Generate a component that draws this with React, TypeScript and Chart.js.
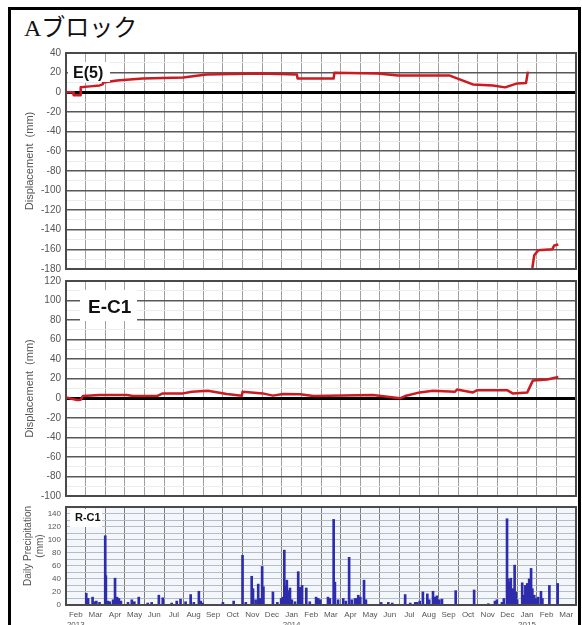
import { useEffect, useRef } from 'react';
import { Chart, registerables } from 'chart.js';

Chart.register(...registerables);

const FONT = "'Liberation Sans', Arial, Helvetica, sans-serif";

// Month axis: Feb 2013 .. Mar 2015, one slot per month
const MONTH_LABELS = ['Feb', 'Mar', 'Apr', 'May', 'Jun', 'Jul', 'Aug', 'Sep', 'Oct', 'Nov', 'Dec', 'Jan',
  'Feb', 'Mar', 'Apr', 'May', 'Jun', 'Jul', 'Aug', 'Sep', 'Oct', 'Nov', 'Dec', 'Jan', 'Feb', 'Mar'];
const YEAR_LABELS = ['2013', '2014', '2015'];
const YEAR_SLOTS = [0, 11, 23];

// Extensometer E(5) displacement (mm); null marks the break in the record
const E5_DATES = ['2013-02-01', '2013-02-11', '2013-02-12', '2013-02-21', '2013-02-22', '2013-03-08', '2013-03-23',
  '2013-03-28', '2013-03-29', '2013-04-19', '2013-05-29', '2013-07-31', '2013-09-06', '2013-11-28', '2014-01-25',
  '2014-01-26', '2014-03-21', '2014-03-22', '2014-05-28', '2014-06-29', '2014-09-18', '2014-10-24', '2014-11-24',
  '2014-12-13', '2015-01-01', '2015-01-15', '2015-01-18', '2015-01-22', '2015-01-25', '2015-01-28', '2015-02-03',
  '2015-02-23', '2015-02-26', '2015-03-04'];
const E5_MM = [0, 0, -3, -3, 5, 6, 7, 8, 10, 12, 14, 15, 18, 19, 18, 14, 14, 20, 19, 17, 17, 8, 7, 5, 9, 9.5, 21,
  null, -179, -166, -161, -160, -156, -155];

// Extensometer E-C1 displacement (mm)
const EC1_DATES = ['2013-02-01', '2013-02-17', '2013-02-22', '2013-02-25', '2013-03-23', '2013-05-04', '2013-05-14',
  '2013-06-20', '2013-06-29', '2013-07-31', '2013-08-14', '2013-09-08', '2013-10-07', '2013-10-31', '2013-11-01',
  '2013-12-02', '2013-12-18', '2014-01-03', '2014-01-30', '2014-02-18', '2014-05-21', '2014-07-02', '2014-07-10',
  '2014-08-02', '2014-08-23', '2014-09-26', '2014-09-29', '2014-10-24', '2014-10-31', '2014-12-16', '2014-12-25',
  '2015-01-17', '2015-01-26', '2015-02-16', '2015-03-04'];
const EC1_MM = [0.7, -1.7, -1.5, 2.3, 3.3, 3.3, 2.3, 2.3, 5, 5, 6.7, 7.7, 4.3, 2.7, 6.7, 5, 2.7, 4.3, 4, 2.3, 3.3,
  0, 2.3, 6, 7.7, 6.7, 9, 6, 8.3, 8.3, 5, 6, 18.3, 19.3, 21.7];

// Rain gauge R-C1 daily precipitation (mm)
const RAIN_DATES = ['2013-03-02', '2013-03-05', '2013-03-12', '2013-03-15', '2013-03-18', '2013-03-23', '2013-04-01',
  '2013-04-02', '2013-04-05', '2013-04-08', '2013-04-13', '2013-04-16', '2013-04-19', '2013-04-22', '2013-04-25',
  '2013-05-06', '2013-05-12', '2013-05-16', '2013-05-23', '2013-06-06', '2013-06-12', '2013-06-23', '2013-06-29',
  '2013-07-13', '2013-07-21', '2013-07-27', '2013-08-04', '2013-08-12', '2013-08-17', '2013-08-25', '2013-08-28',
  '2013-08-31', '2013-10-01', '2013-10-18', '2013-11-01', '2013-11-06', '2013-11-15', '2013-11-17', '2013-11-21',
  '2013-11-25', '2013-11-28', '2013-12-01', '2013-12-03', '2013-12-18', '2013-12-25', '2013-12-31', '2014-01-03',
  '2014-01-05', '2014-01-07', '2014-01-09', '2014-01-12', '2014-01-14', '2014-01-17', '2014-01-22', '2014-01-27',
  '2014-01-30', '2014-02-02', '2014-02-08', '2014-02-13', '2014-02-22', '2014-02-25', '2014-02-28', '2014-03-12',
  '2014-03-15', '2014-03-21', '2014-03-23', '2014-03-28', '2014-04-05', '2014-04-09', '2014-04-14', '2014-04-18',
  '2014-04-23', '2014-04-26', '2014-04-28', '2014-05-01', '2014-05-07', '2014-05-10', '2014-06-03', '2014-06-14',
  '2014-06-20', '2014-07-10', '2014-07-18', '2014-07-26', '2014-07-29', '2014-08-02', '2014-08-07', '2014-08-14',
  '2014-08-17', '2014-08-23', '2014-08-26', '2014-08-29', '2014-09-02', '2014-09-06', '2014-09-27', '2014-10-26',
  '2014-11-17', '2014-11-27', '2014-11-30', '2014-12-08', '2014-12-11', '2014-12-16', '2014-12-18', '2014-12-19',
  '2014-12-22', '2014-12-25', '2014-12-28', '2014-12-30', '2015-01-01', '2015-01-09', '2015-01-12', '2015-01-14',
  '2015-01-17', '2015-01-20', '2015-01-23', '2015-01-25', '2015-01-28', '2015-01-31', '2015-02-03', '2015-02-07',
  '2015-02-09', '2015-02-19', '2015-03-03'];
const RAIN_MM = [18, 10, 12, 5, 6, 4, 106, 45, 6, 5, 8, 41, 12, 10, 6, 4, 8, 5, 12, 3, 4, 15, 11, 3, 6, 9, 5, 16, 4, 21,
  6, 3, 4, 6, 76, 4, 44, 25, 8, 32, 10, 59, 28, 20, 4, 10, 12, 84, 30, 38, 22, 26, 8, 5, 51, 27, 30, 26, 5, 12, 10, 8,
  12, 10, 131, 35, 8, 10, 6, 73, 8, 10, 10, 15, 12, 38, 8, 4, 4, 3, 16, 3, 4, 4, 6, 20, 17, 8, 21, 12, 14, 8, 9, 22,
  23, 2, 6, 8, 4, 10, 132, 40, 35, 41, 25, 61, 20, 8, 34, 15, 30, 33, 40, 56, 25, 15, 10, 12, 21, 10, 30, 33];

// Axis ranges (min, max) of each panel
const E5_RANGE = [-180, 40];
const EC1_RANGE = [-100, 120];
const RAIN_RANGE = [0, 150];

// Position of a date on the month axis (0 = 1 Feb 2013)
function monthPos(s: string): number {
  const [y, m, d] = s.split('-').map(Number);
  const days = new Date(y, m, 0).getDate();
  return (y - 2013) * 12 + (m - 2) + (d - 1) / days;
}

function points(dates: string[], values: (number | null)[]) {
  return dates.map((d, i) => ({ x: monthPos(d), y: values[i] }));
}

function stepTicks(min: number, max: number, step: number) {
  const out: { value: number }[] = [];
  for (let v = min; v <= max + 1e-9; v += step) out.push({ value: Math.round(v * 100) / 100 });
  return out;
}

const panelDecor = {
  id: 'panelDecor',
  beforeDraw(chart: any, _a: any, o: any) {
    const { ctx, chartArea: a } = chart;
    ctx.save();
    ctx.fillStyle = o.background;
    ctx.fillRect(a.left, a.top, a.right - a.left, a.bottom - a.top);
    ctx.restore();
  },
  afterDraw(chart: any, _a: any, o: any) {
    const { ctx, chartArea: a } = chart;
    ctx.save();
    ctx.strokeStyle = o.frame;
    ctx.lineWidth = 2;
    ctx.strokeRect(a.left, a.top, a.right - a.left, a.bottom - a.top);
    const b = o.box;
    ctx.fillStyle = '#ffffff';
    ctx.fillRect(a.left + b[0], a.top + b[1], b[2], b[3]);
    ctx.fillStyle = '#111111';
    ctx.font = `bold ${o.size}px ${FONT}`;
    ctx.textBaseline = 'alphabetic';
    ctx.textAlign = 'left';
    ctx.fillText(o.label, a.left + o.textAt[0], a.top + o.textAt[1]);
    if (o.sideTitle) {
      ctx.font = `10px ${FONT}`;
      ctx.fillStyle = '#555555';
      ctx.textAlign = 'center';
      ctx.textBaseline = 'middle';
      const cy = (a.top + a.bottom) / 2 + o.sideTitle.dy;
      o.sideTitle.lines.forEach((line: string, i: number) => {
        ctx.save();
        ctx.translate(o.sideTitle.x + i * 12, cy);
        ctx.rotate(-Math.PI / 2);
        ctx.fillText(line, 0, 0);
        ctx.restore();
      });
    }
    ctx.restore();
  },
};

function monthAxis(showLabels: boolean, gridColor: string) {
  return {
    type: 'linear',
    min: 0,
    max: MONTH_LABELS.length,
    offset: false,
    afterBuildTicks: (s: any) => { s.ticks = stepTicks(0, MONTH_LABELS.length, 0.5); },
    afterFit: (s: any) => { s.height = showLabels ? 25 : 0; },
    border: { display: false },
    grid: {
      offset: false,
      drawTicks: false,
      color: (c: any) => (c.tick && Number.isInteger(c.tick.value) ? gridColor : 'rgba(0,0,0,0)'),
      lineWidth: 1,
    },
    ticks: {
      display: showLabels,
      autoSkip: false,
      maxRotation: 0,
      minRotation: 0,
      padding: 5,
      color: '#555',
      font: { size: 8, family: FONT },
      callback: (v: number) => {
        if (Number.isInteger(v)) return '';
        const slot = Math.floor(v);
        const yi = YEAR_SLOTS.indexOf(slot);
        return yi >= 0 ? [MONTH_LABELS[slot], YEAR_LABELS[yi]] : MONTH_LABELS[slot];
      },
    },
  };
}

function displacementConfig(data: any[], range: number[], label: string, size: number, box: number[], textAt: number[]) {
  return {
    type: 'line',
    data: {
      datasets: [{
        data,
        borderColor: '#cc1a22',
        borderWidth: 2.5,
        pointRadius: 0,
        tension: 0,
        spanGaps: false,
        fill: false,
        borderJoinStyle: 'round',
      }],
    },
    plugins: [panelDecor],
    options: {
      animation: false,
      responsive: false,
      devicePixelRatio: 1,
      parsing: true,
      layout: { padding: { top: 10, bottom: 7, left: 0, right: 6 } },
      plugins: {
        legend: { display: false },
        tooltip: { enabled: false },
        panelDecor: { background: '#ffffff', frame: '#4a4a4a', label, size, box, textAt },
      },
      scales: {
        x: monthAxis(false, '#a0a0a0'),
        y: {
          min: range[0],
          max: range[1],
          afterBuildTicks: (s: any) => { s.ticks = stepTicks(range[0], range[1], 10); },
          afterFit: (s: any) => { s.width = 66; },
          border: { display: false },
          grid: {
            drawTicks: false,
            color: (c: any) => {
              const v = c.tick ? c.tick.value : 1;
              if (v === 0) return '#000000';
              return v % 20 === 0 ? '#585858' : '#ececec';
            },
            lineWidth: (c: any) => {
              const v = c.tick ? c.tick.value : 1;
              if (v === 0) return 3;
              return v % 20 === 0 ? 1.4 : 1;
            },
          },
          ticks: {
            autoSkip: false,
            padding: 5,
            color: '#555',
            font: { size: 10, family: FONT },
            callback: (v: number) => (v % 20 === 0 ? String(v) : ''),
          },
          title: {
            display: true,
            text: 'Displacement  (mm)',
            color: '#555',
            font: { size: 11, family: FONT },
            padding: { top: 23, bottom: 0 },
          },
        },
      },
    },
  };
}

function rainConfig() {
  return {
    type: 'bar',
    data: {
      datasets: [{
        data: points(RAIN_DATES, RAIN_MM),
        backgroundColor: '#2c2cac',
        barThickness: 2,
        borderWidth: 0,
      }],
    },
    plugins: [panelDecor],
    options: {
      animation: false,
      responsive: false,
      devicePixelRatio: 1,
      layout: { padding: { top: 10, bottom: 0, left: 0, right: 6 } },
      plugins: {
        legend: { display: false },
        tooltip: { enabled: false },
        panelDecor: {
          background: '#f3f6fa', frame: '#4a4a4a', label: 'R-C1', size: 11,
          box: [4, 2, 32, 18], textAt: [9, 14],
          sideTitle: { x: 28, dy: -10, lines: ['Daily Precipitation', '(mm)'] },
        },
      },
      scales: {
        x: monthAxis(true, '#7c7c7c'),
        y: {
          min: RAIN_RANGE[0],
          max: RAIN_RANGE[1],
          afterBuildTicks: (s: any) => { s.ticks = stepTicks(RAIN_RANGE[0], RAIN_RANGE[1], 10); },
          afterFit: (s: any) => { s.width = 66; },
          border: { display: false },
          grid: { drawTicks: false, color: '#b4bcc8', lineWidth: 1 },
          ticks: {
            autoSkip: false,
            padding: 5,
            color: '#555',
            font: { size: 8, family: FONT },
            callback: (v: number) => (v % 20 === 0 ? String(v) : ''),
          },
        },
      },
    },
  };
}

export default function App() {
  const c1 = useRef<HTMLCanvasElement>(null);
  const c2 = useRef<HTMLCanvasElement>(null);
  const c3 = useRef<HTMLCanvasElement>(null);

  useEffect(() => {
    const charts = [
      new Chart(c1.current as any, displacementConfig(points(E5_DATES, E5_MM), E5_RANGE, 'E(5)', 16, [2, 9, 42, 20], [7, 25]) as any),
      new Chart(c2.current as any, displacementConfig(points(EC1_DATES, EC1_MM), EC1_RANGE, 'E-C1', 19, [14, 9, 57, 31], [22, 32]) as any),
      new Chart(c3.current as any, rainConfig() as any),
    ];
    return () => charts.forEach((c) => c.destroy());
  }, []);

  return (
    <div style={{ position: 'absolute', left: 0, top: 0, width: 582, height: 625, overflow: 'hidden', background: '#fff' }}>
      <div style={{ position: 'absolute', left: 8, top: 7, width: 573, height: 660, border: '3px solid #000', boxSizing: 'border-box' }} />
      <div style={{ position: 'absolute', left: 24, top: 13, fontFamily: "'Liberation Serif', 'Noto Sans CJK JP', serif", fontSize: 24, lineHeight: '30px', color: '#111', whiteSpace: 'nowrap' }}>
        Aブロック
      </div>
      <canvas ref={c1} width={582} height={238} style={{ position: 'absolute', left: 0, top: 42 }} />
      <canvas ref={c2} width={582} height={237} style={{ position: 'absolute', left: 0, top: 270 }} />
      <canvas ref={c3} width={582} height={133} style={{ position: 'absolute', left: 0, top: 497 }} />
    </div>
  );
}
